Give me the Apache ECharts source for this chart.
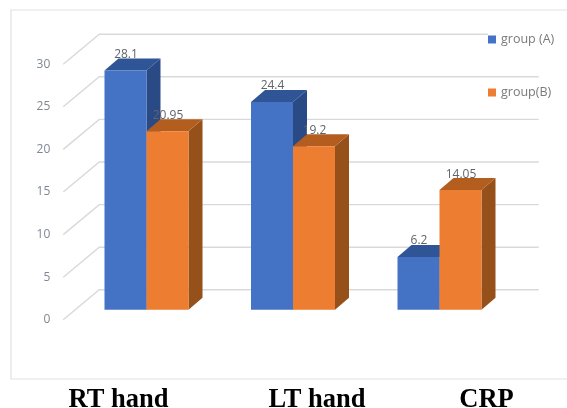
<!DOCTYPE html>
<html>
<head>
<meta charset="utf-8">
<style>
  html, body { margin: 0; padding: 0; background: #fff; }
  #chart { width: 567px; height: 408px; }
</style>
<script src="https://cdn.jsdelivr.net/npm/echarts@6/dist/echarts.min.js"></script>
</head>
<body>
<div id="chart"></div>
<script>
const categories = ['RT hand', 'LT hand', 'CRP'];
const groupA = [28.1, 24.4, 6.2];
const groupB = [20.95, 19.2, 14.05];
const yTicks = [0, 5, 10, 15, 20, 25, 30];

// Horizontal nudge of each category caption away from its tick
const captionShift = [-28, 24, 47];

const DEPTH = { frontDrop: 10, barDx: 14, barDy: 12, wallDx: 36, wallDy: 30 };
const TEXT_FONT = '12px "Open Sans", sans-serif';
const BAR_SHARE = 42 / 146.5;

// Back wall, side wall and their gridlines, one polyline per tick
function renderWall(params, api) {
  const rect = params.coordSys;
  const y = api.coord([0, api.value(0)])[1];
  const x0 = rect.x - 10;
  const x1 = x0 + DEPTH.wallDx;
  const x2 = rect.x + rect.width + 26;
  return {
    type: 'polyline',
    shape: { points: [[x0, y], [x1, y - DEPTH.wallDy], [x2, y - DEPTH.wallDy]] },
    style: { fill: null, stroke: '#d9d9d9', lineWidth: 1.4 }
  };
}

// Extruded column: front face, top face, side face and its value caption
function columnRenderer(side, colors) {
  return function (params, api) {
    const value = api.value(1);
    const base = api.coord([api.value(0), 0]);
    const top = api.coord([api.value(0), value]);
    const w = api.size([1, 0])[0] * BAR_SHARE;
    const xl = side < 0 ? base[0] - w : base[0];
    const xr = xl + w;
    const yb = base[1] - DEPTH.frontDrop;
    const yt = top[1] - DEPTH.frontDrop;
    const dx = DEPTH.barDx, dy = DEPTH.barDy;
    return {
      type: 'group',
      children: [
        { type: 'polygon',
          shape: { points: [[xr, yt], [xr + dx, yt - dy], [xr + dx, yb - dy], [xr, yb]] },
          style: { fill: colors.side } },
        { type: 'polygon',
          shape: { points: [[xl, yt], [xl + dx, yt - dy], [xr + dx, yt - dy], [xr, yt]] },
          style: { fill: colors.top } },
        { type: 'rect',
          shape: { x: xl, y: yt, width: w, height: yb - yt },
          style: { fill: colors.front } },
        { type: 'text',
          style: { text: String(value), x: (xl + xr) / 2 + 0.5, y: yt - 16,
                   align: 'center', verticalAlign: 'middle',
                   fill: '#5f636b', font: TEXT_FONT } }
      ]
    };
  };
}

const blue = { front: '#4472c4', top: '#2f5597', side: '#2a4a85' };
const orange = { front: '#ed7d31', top: '#b35e1f', side: '#96501a' };

const legendBase = {
  orient: 'vertical', left: 488, itemWidth: 8, itemHeight: 8,
  icon: 'rect', backgroundColor: '#fff', padding: [3, 8, 3, 0],
  textStyle: { color: '#7a7a7a', fontSize: 12.5, fontFamily: '"Open Sans", sans-serif' }
};

const chart = echarts.init(document.getElementById('chart'));
chart.setOption({
  animation: false,
  backgroundColor: '#fff',
  graphic: [{
    type: 'rect', z: -10, silent: true,
    shape: { x: 11, y: 10, width: 600, height: 369 },
    style: { fill: null, stroke: '#e2e2e2', lineWidth: 1.2 }
  }],
  legend: [
    Object.assign({}, legendBase, { top: 30, data: ['group (A)'] }),
    Object.assign({}, legendBase, { top: 83, data: ['group(B)'] })
  ],
  grid: { left: 73.25, top: 64.2, width: 439.5, height: 255.6, containLabel: false, outerBoundsMode: 'none' },
  xAxis: {
    type: 'category',
    data: categories,
    axisLine: { show: false },
    axisTick: { show: false },
    splitLine: { show: false },
    axisLabel: {
      interval: 0,
      margin: 67,
      formatter: (name) => '{c' + categories.indexOf(name) + '|' + name + '}',
      rich: Object.fromEntries(categories.map((c, i) => {
        const s = captionShift[i];
        return ['c' + i, {
          fontFamily: '"Liberation Serif", serif',
          fontWeight: 'bold',
          fontSize: 26.5,
          color: '#000',
          padding: [0, s < 0 ? -2 * s : 0, 0, s > 0 ? 2 * s : 0]
        }];
      }))
    }
  },
  yAxis: {
    type: 'value',
    min: 0, max: 30, interval: 5,
    axisLine: { show: false },
    axisTick: { show: false },
    splitLine: { show: false },
    axisLabel: {
      margin: 23, color: '#7f8794', fontSize: 12,
      fontFamily: '"Open Sans", sans-serif',
      customValues: yTicks
    }
  },
  series: [
    { type: 'custom', name: 'walls', silent: true, z: 1, clip: false,
      data: yTicks.map(v => [v]), renderItem: renderWall, encode: { y: 0 } },
    { type: 'custom', name: 'group (A)', silent: true, z: 2, clip: false,
      itemStyle: { color: blue.front },
      data: groupA.map((v, i) => [i, v]),
      encode: { x: 0, y: 1 },
      renderItem: columnRenderer(-1, blue) },
    { type: 'custom', name: 'group(B)', silent: true, z: 3, clip: false,
      itemStyle: { color: orange.front },
      data: groupB.map((v, i) => [i, v]),
      encode: { x: 0, y: 1 },
      renderItem: columnRenderer(1, orange) }
  ]
});
</script>
</body>
</html>
